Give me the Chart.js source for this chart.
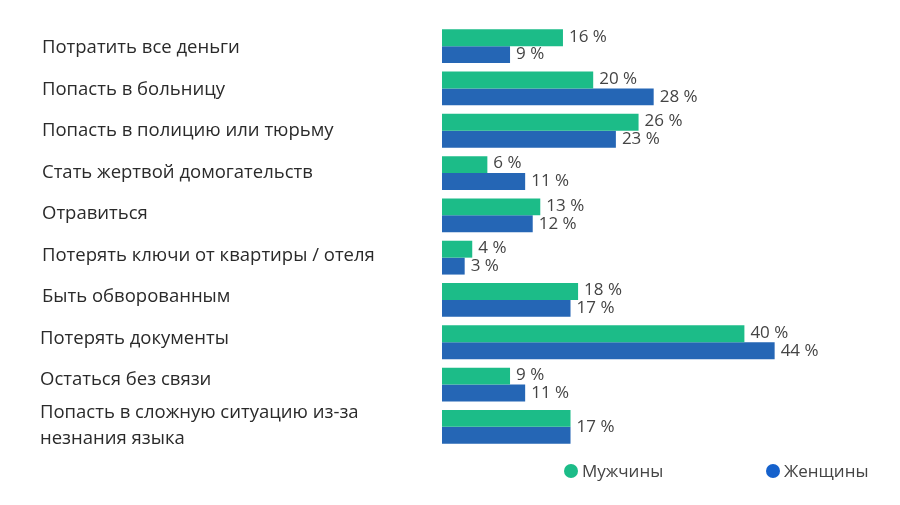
<!DOCTYPE html>
<html>
<head>
<meta charset="utf-8">
<script src="https://cdn.jsdelivr.net/npm/chart.js@4"></script>
<style>
  html, body { margin: 0; padding: 0; background: #fff; }
  #wrap { width: 900px; height: 505px; position: relative; }
</style>
</head>
<body>
<div id="wrap"><canvas id="risks-chart"></canvas></div>
<script>
// данные с картинки
var categories = [
    'Потратить все деньги',
    'Попасть в больницу',
    'Попасть в полицию или тюрьму',
    'Стать жертвой домогательств',
    'Отравиться',
    'Потерять ключи от квартиры / отеля',
    'Быть обворованным',
    'Потерять документы',
    'Остаться без связи',
    ['Попасть в сложную ситуацию из-за', 'незнания языка']
];
var men = [16, 20, 26, 6, 13, 4, 18, 40, 9, 17];
var women = [9, 28, 23, 11, 12, 3, 17, 44, 11, 17];
var seriesNames = ['Мужчины', 'Женщины'];

var GREEN = '#1cbc88';
var BLUE = '#2566b5';
var FONT = '"Open Sans", "Noto Sans", sans-serif';

// подписи категорий слева, значения у концов столбцов и легенда
var labelsPlugin = {
    id: 'labelsPlugin',
    afterDraw: function(chart) {
        var ctx = chart.ctx;
        var yScale = chart.scales.y;
        ctx.save();
        ctx.textBaseline = 'middle';

        // в оригинале подписи идут чуть плотнее, чем столбцы
        ctx.font = '18.5px ' + FONT;
        ctx.fillStyle = '#2a2a2a';
        ctx.textAlign = 'left';
        var y0 = yScale.getPixelForValue(0) + 2;
        categories.forEach(function(cat, i) {
            var x = i >= 7 ? 40 : 42;
            if (Array.isArray(cat)) {
                var yc = yScale.getPixelForValue(i);
                ctx.fillText(cat[0], x, yc - 14);
                ctx.fillText(cat[1], x, yc + 12);
            } else {
                ctx.fillText(cat, x, y0 + i * 41.5);
            }
        });

        ctx.font = '17px ' + FONT;
        ctx.fillStyle = '#444';
        var m0 = chart.getDatasetMeta(0).data;
        var m1 = chart.getDatasetMeta(1).data;
        for (var i = 0; i < categories.length; i++) {
            if (men[i] === women[i] && i === categories.length - 1) {
                var xe = Math.max(m0[i].x, m1[i].x);
                ctx.fillText(men[i] + ' %', xe + 6, (m0[i].y + m1[i].y) / 2);
                continue;
            }
            ctx.fillText(men[i] + ' %', m0[i].x + 6, m0[i].y - 1);
            ctx.fillText(women[i] + ' %', m1[i].x + 6, m1[i].y);
        }

        // легенда
        var items = [[571, GREEN], [773, '#1561cc']];
        ctx.font = '17px ' + FONT;
        items.forEach(function(it, k) {
            ctx.beginPath();
            ctx.arc(it[0], 471, 7, 0, Math.PI * 2);
            ctx.fillStyle = it[1];
            ctx.fill();
            ctx.fillStyle = '#444';
            ctx.fillText(seriesNames[k], it[0] + 11, 472);
        });
        ctx.restore();
    }
};

var ctx = document.getElementById('risks-chart').getContext('2d');
var myChart = new Chart(ctx, {
    type: 'bar',
    data: {
        labels: categories,
        datasets: [{
            label: seriesNames[0],
            data: men,
            backgroundColor: GREEN,
            borderWidth: 0
        }, {
            label: seriesNames[1],
            data: women,
            backgroundColor: BLUE,
            borderWidth: 0
        }]
    },
    options: {
        indexAxis: 'y',
        responsive: true,
        maintainAspectRatio: false,
        animation: false,
        layout: { padding: { left: 442, right: 80, top: 25, bottom: 57 } },
        datasets: { bar: { categoryPercentage: 0.8, barPercentage: 1.0 } },
        scales: {
            x: {
                min: 0,
                max: 50,
                display: false
            },
            y: {
                display: false
            }
        },
        plugins: {
            legend: { display: false },
            tooltip: { enabled: false }
        }
    },
    plugins: [labelsPlugin]
});
</script>
</body>
</html>
